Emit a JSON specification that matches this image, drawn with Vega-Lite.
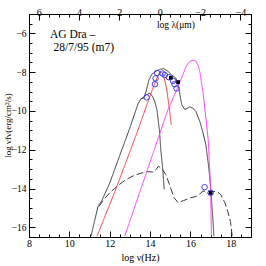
{
  "$schema": "https://vega.github.io/schema/vega-lite/v6.json",
  "width": 222,
  "height": 223,
  "autosize": {"type": "none"},
  "padding": {"left": 29, "top": 14, "right": 15, "bottom": 29},
  "background": "white",
  "config": {
    "view": {"stroke": "black", "strokeWidth": 1},
    "axis": {
      "labelFont": "Liberation Serif", "titleFont": "Liberation Serif",
      "labelFontSize": 10, "titleFontSize": 10, "titleFontWeight": "normal",
      "labelColor": "black", "titleColor": "black", "domainColor": "black",
      "tickColor": "black", "grid": false, "labelFlush": false, "labelOverlap": false
    }
  },
  "datasets": {
    "lines": [
      {"s": "total", "o": 1, "x": 11.07, "y": -16.46},
      {"s": "total", "o": 2, "x": 11.42, "y": -14.92},
      {"s": "total", "o": 3, "x": 11.61, "y": -14.62},
      {"s": "total", "o": 4, "x": 12.01, "y": -13.69},
      {"s": "total", "o": 5, "x": 12.60, "y": -12.00},
      {"s": "total", "o": 6, "x": 13.00, "y": -10.87},
      {"s": "total", "o": 7, "x": 13.40, "y": -9.64},
      {"s": "total", "o": 8, "x": 13.54, "y": -9.38},
      {"s": "total", "o": 9, "x": 13.69, "y": -9.33},
      {"s": "total", "o": 10, "x": 13.79, "y": -9.03},
      {"s": "total", "o": 11, "x": 13.94, "y": -8.41},
      {"s": "total", "o": 12, "x": 14.09, "y": -8.10},
      {"s": "total", "o": 13, "x": 14.29, "y": -7.95},
      {"s": "total", "o": 14, "x": 14.49, "y": -7.85},
      {"s": "total", "o": 15, "x": 14.68, "y": -7.82},
      {"s": "total", "o": 16, "x": 14.88, "y": -7.95},
      {"s": "total", "o": 17, "x": 15.08, "y": -8.15},
      {"s": "total", "o": 18, "x": 15.28, "y": -8.31},
      {"s": "total", "o": 19, "x": 15.40, "y": -8.62},
      {"s": "total", "o": 20, "x": 15.48, "y": -9.18},
      {"s": "total", "o": 21, "x": 15.57, "y": -9.69},
      {"s": "total", "o": 22, "x": 15.72, "y": -9.92},
      {"s": "total", "o": 23, "x": 15.87, "y": -9.85},
      {"s": "total", "o": 24, "x": 15.97, "y": -9.79},
      {"s": "total", "o": 25, "x": 16.12, "y": -9.85},
      {"s": "total", "o": 26, "x": 16.27, "y": -10.03},
      {"s": "total", "o": 27, "x": 16.47, "y": -10.56},
      {"s": "total", "o": 28, "x": 16.61, "y": -11.08},
      {"s": "total", "o": 29, "x": 16.76, "y": -11.74},
      {"s": "total", "o": 30, "x": 16.89, "y": -12.77},
      {"s": "total", "o": 31, "x": 16.99, "y": -13.79},
      {"s": "total", "o": 32, "x": 17.06, "y": -14.82},
      {"s": "total", "o": 33, "x": 17.12, "y": -15.69},
      {"s": "total", "o": 34, "x": 17.16, "y": -16.46},
      {"s": "inner", "o": 1, "x": 13.54, "y": -9.38},
      {"s": "inner", "o": 2, "x": 13.69, "y": -9.28},
      {"s": "inner", "o": 3, "x": 13.84, "y": -9.15},
      {"s": "inner", "o": 4, "x": 13.99, "y": -9.08},
      {"s": "inner", "o": 5, "x": 14.14, "y": -9.28},
      {"s": "inner", "o": 6, "x": 14.24, "y": -9.54},
      {"s": "inner", "o": 7, "x": 14.34, "y": -9.95},
      {"s": "inner", "o": 8, "x": 14.46, "y": -10.97},
      {"s": "inner", "o": 9, "x": 14.53, "y": -12.00},
      {"s": "inner", "o": 10, "x": 14.63, "y": -13.03},
      {"s": "inner", "o": 11, "x": 14.70, "y": -14.05},
      {"s": "dashed", "o": 1, "x": 11.47, "y": -14.92},
      {"s": "dashed", "o": 2, "x": 11.71, "y": -14.56},
      {"s": "dashed", "o": 3, "x": 12.01, "y": -14.21},
      {"s": "dashed", "o": 4, "x": 12.41, "y": -13.85},
      {"s": "dashed", "o": 5, "x": 12.80, "y": -13.54},
      {"s": "dashed", "o": 6, "x": 13.20, "y": -13.33},
      {"s": "dashed", "o": 7, "x": 13.54, "y": -13.21},
      {"s": "dashed", "o": 8, "x": 13.89, "y": -13.13},
      {"s": "dashed", "o": 9, "x": 14.14, "y": -13.15},
      {"s": "dashed", "o": 10, "x": 14.29, "y": -13.03},
      {"s": "dashed", "o": 11, "x": 14.41, "y": -12.85},
      {"s": "dashed", "o": 12, "x": 14.58, "y": -12.97},
      {"s": "dashed", "o": 13, "x": 14.78, "y": -13.28},
      {"s": "dashed", "o": 14, "x": 14.98, "y": -13.85},
      {"s": "dashed", "o": 15, "x": 15.18, "y": -14.46},
      {"s": "dashed", "o": 16, "x": 15.38, "y": -14.72},
      {"s": "dashed", "o": 17, "x": 15.67, "y": -14.62},
      {"s": "dashed", "o": 18, "x": 15.97, "y": -14.49},
      {"s": "dashed", "o": 19, "x": 16.27, "y": -14.41},
      {"s": "dashed", "o": 20, "x": 16.47, "y": -14.28},
      {"s": "dashed", "o": 21, "x": 16.61, "y": -14.13},
      {"s": "dashed", "o": 22, "x": 16.81, "y": -14.15},
      {"s": "dashed", "o": 23, "x": 17.06, "y": -14.15},
      {"s": "dashed", "o": 24, "x": 17.31, "y": -14.15},
      {"s": "dashed", "o": 25, "x": 17.50, "y": -14.31},
      {"s": "dashed", "o": 26, "x": 17.70, "y": -14.72},
      {"s": "dashed", "o": 27, "x": 17.85, "y": -15.18},
      {"s": "dashed", "o": 28, "x": 17.98, "y": -15.69},
      {"s": "dashed", "o": 29, "x": 18.07, "y": -16.46},
      {"s": "red", "o": 1, "x": 11.37, "y": -16.46},
      {"s": "red", "o": 2, "x": 11.76, "y": -15.44},
      {"s": "red", "o": 3, "x": 12.26, "y": -14.15},
      {"s": "red", "o": 4, "x": 12.85, "y": -12.51},
      {"s": "red", "o": 5, "x": 13.35, "y": -11.13},
      {"s": "red", "o": 6, "x": 13.84, "y": -9.69},
      {"s": "red", "o": 7, "x": 14.14, "y": -8.82},
      {"s": "red", "o": 8, "x": 14.34, "y": -8.31},
      {"s": "red", "o": 9, "x": 14.49, "y": -8.00},
      {"s": "red", "o": 10, "x": 14.63, "y": -8.05},
      {"s": "red", "o": 11, "x": 14.73, "y": -8.41},
      {"s": "red", "o": 12, "x": 14.83, "y": -8.92},
      {"s": "red", "o": 13, "x": 14.91, "y": -9.54},
      {"s": "red", "o": 14, "x": 14.98, "y": -10.10},
      {"s": "red", "o": 15, "x": 15.05, "y": -10.72},
      {"s": "magenta", "o": 1, "x": 12.75, "y": -16.44},
      {"s": "magenta", "o": 2, "x": 13.50, "y": -14.15},
      {"s": "magenta", "o": 3, "x": 14.24, "y": -11.90},
      {"s": "magenta", "o": 4, "x": 14.88, "y": -9.95},
      {"s": "magenta", "o": 5, "x": 15.23, "y": -9.13},
      {"s": "magenta", "o": 6, "x": 15.48, "y": -8.51},
      {"s": "magenta", "o": 7, "x": 15.81, "y": -7.64},
      {"s": "magenta", "o": 8, "x": 15.97, "y": -7.44},
      {"s": "magenta", "o": 9, "x": 16.13, "y": -7.38},
      {"s": "magenta", "o": 10, "x": 16.27, "y": -7.44},
      {"s": "magenta", "o": 11, "x": 16.38, "y": -7.64},
      {"s": "magenta", "o": 12, "x": 16.47, "y": -8.00},
      {"s": "magenta", "o": 13, "x": 16.55, "y": -8.56},
      {"s": "magenta", "o": 14, "x": 16.64, "y": -9.18},
      {"s": "magenta", "o": 15, "x": 16.71, "y": -9.85},
      {"s": "magenta", "o": 16, "x": 16.80, "y": -10.72},
      {"s": "magenta", "o": 17, "x": 16.88, "y": -11.49},
      {"s": "magenta", "o": 18, "x": 16.93, "y": -12.51},
      {"s": "magenta", "o": 19, "x": 16.98, "y": -13.54},
      {"s": "magenta", "o": 20, "x": 17.01, "y": -14.56},
      {"s": "magenta", "o": 21, "x": 17.04, "y": -16.46}
    ],
    "circles": [
      {"x": 13.83, "y": -9.30}, {"x": 14.24, "y": -8.62}, {"x": 14.27, "y": -8.32},
      {"x": 14.35, "y": -8.04}, {"x": 14.62, "y": -8.07}, {"x": 14.73, "y": -8.15},
      {"x": 14.93, "y": -8.26}, {"x": 15.14, "y": -8.45}, {"x": 15.21, "y": -8.62},
      {"x": 15.31, "y": -8.84}, {"x": 16.70, "y": -13.93}, {"x": 17.00, "y": -14.22}
    ],
    "squares": [
      {"x": 15.03, "y": -8.29}, {"x": 15.39, "y": -8.51}, {"x": 17.00, "y": -14.22}
    ],
    "labels": [
      {"x": 9.04, "y": -6.10, "t": "AG Dra \u2013", "f": 11.5},
      {"x": 9.22, "y": -6.76, "t": "28/7/95 (m7)", "f": 11.5},
      {"x": 14.34, "y": -5.58, "t": "log \u03bb(\u03bcm)", "f": 9.5}
    ]
  },
  "layer": [
    {
      "data": {"name": "lines"},
      "mark": {"type": "line", "strokeWidth": 1, "clip": true},
      "encoding": {
        "x": {
          "field": "x", "type": "quantitative",
          "scale": {"domain": [8, 19], "nice": false, "zero": false},
          "axis": {
            "orient": "bottom", "title": "log \u03bd(Hz)",
            "values": [8, 8.5, 9, 9.5, 10, 10.5, 11, 11.5, 12, 12.5, 13, 13.5, 14, 14.5, 15, 15.5, 16, 16.5, 17, 17.5, 18, 18.5],
            "tickSize": {"condition": {"test": "datum.value % 2 === 0", "value": -6}, "value": -3},
            "labelExpr": "datum.value % 2 === 0 ? format(datum.value, 'd') : ''",
            "labelPadding": 7, "titlePadding": 1
          }
        },
        "y": {
          "field": "y", "type": "quantitative",
          "scale": {"domain": [-16.5, -5], "nice": false, "zero": false},
          "axis": {
            "orient": "left", "title": "log \u03bdf\u03bd(erg/cm\u00b2/s)",
            "values": [-16, -15.5, -15, -14.5, -14, -13.5, -13, -12.5, -12, -11.5, -11, -10.5, -10, -9.5, -9, -8.5, -8, -7.5, -7, -6.5, -6, -5.5],
            "tickSize": {"condition": {"test": "datum.value % 2 === 0", "value": -6}, "value": -3},
            "labelExpr": "datum.value % 2 === 0 ? format(datum.value, 'd') : ''",
            "labelPadding": 9, "labelFontSize": 9.5,
            "titleX": -22, "titleY": 111, "titleAngle": -90, "titleAlign": "center", "titleBaseline": "middle", "titleFontSize": 9
          }
        },
        "color": {
          "field": "s", "type": "nominal",
          "scale": {"domain": ["total", "inner", "dashed", "red", "magenta"], "range": ["#3a3a3a", "#3a3a3a", "#3a3a3a", "#ff3b3b", "#ff3bff"]},
          "legend": null
        },
        "strokeDash": {
          "field": "s", "type": "nominal",
          "scale": {"domain": ["total", "inner", "dashed", "red", "magenta"], "range": [[1, 0], [1, 0], [7, 3], [1, 0], [1, 0]]},
          "legend": null
        },
        "order": {"field": "o", "type": "quantitative"}
      }
    },
    {
      "data": {"name": "circles"},
      "mark": {"type": "point", "shape": "circle", "filled": false, "color": "#3b3bff", "size": 30, "strokeWidth": 1, "opacity": 1},
      "encoding": {
        "x": {
          "field": "x", "type": "quantitative",
          "axis": {
            "orient": "top", "title": null,
            "values": [8.477, 8.977, 9.477, 9.977, 10.477, 10.977, 11.477, 11.977, 12.477, 12.977, 13.477, 13.977, 14.477, 14.977, 15.477, 15.977, 16.477, 16.977, 17.477, 17.977, 18.477, 18.977],
            "tickSize": {"condition": {"test": "round((datum.value-8.477)*2) % 4 === 0", "value": -6}, "value": -3},
            "labelExpr": "round((datum.value-8.477)*2) % 4 === 0 ? format(round(14.477-datum.value), 'd') : ''",
            "labelPadding": 3
          }
        },
        "y": {
          "field": "y", "type": "quantitative",
          "axis": {
            "orient": "right", "title": null, "labels": false,
            "values": [-16, -15.5, -15, -14.5, -14, -13.5, -13, -12.5, -12, -11.5, -11, -10.5, -10, -9.5, -9, -8.5, -8, -7.5, -7, -6.5, -6, -5.5],
            "tickSize": {"condition": {"test": "datum.value % 2 === 0", "value": -6}, "value": -3}
          }
        }
      }
    },
    {
      "data": {"name": "squares"},
      "mark": {"type": "point", "shape": "square", "filled": true, "color": "black", "size": 14, "opacity": 1},
      "encoding": {
        "x": {"field": "x", "type": "quantitative", "axis": null},
        "y": {"field": "y", "type": "quantitative", "axis": null}
      }
    },
    {
      "data": {"name": "labels"},
      "mark": {"type": "text", "font": "Liberation Serif", "align": "left", "baseline": "middle", "color": "black"},
      "encoding": {
        "x": {"field": "x", "type": "quantitative", "axis": null},
        "y": {"field": "y", "type": "quantitative", "axis": null},
        "text": {"field": "t"},
        "size": {"field": "f", "type": "quantitative", "scale": null}
      }
    }
  ],
  "resolve": {"axis": {"x": "independent", "y": "independent"}}
}
